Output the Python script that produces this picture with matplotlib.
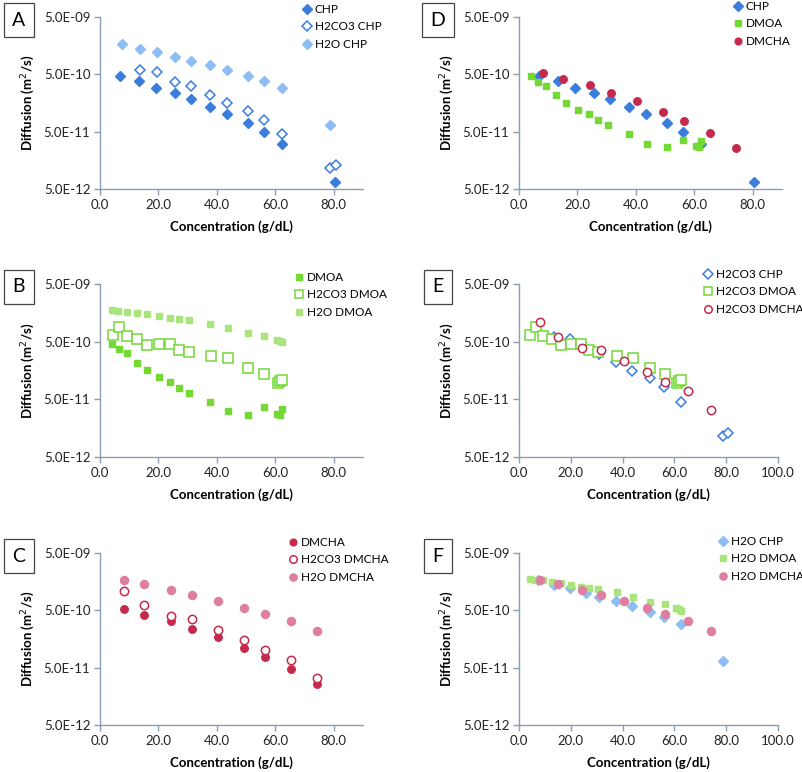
import matplotlib
matplotlib.use("Agg")
import matplotlib.pyplot as plt
from matplotlib.ticker import FixedLocator, FuncFormatter, NullLocator

plt.rcParams['font.family'] = ['Lato', 'DejaVu Sans']

# ---- data (concentration g/dL, diffusion m2/s) ----
chp_x = [7.0, 13.4, 19.3, 25.5, 31.0, 37.5, 43.5, 50.5, 56.0, 62.4, 80.4]
chp_y = [4.66e-10, 3.81e-10, 2.84e-10, 2.33e-10, 1.88e-10, 1.37e-10, 1.03e-10,
         7.1e-11, 4.96e-11, 3.03e-11, 6.6e-12]
h2co3_chp_x = [13.6, 19.6, 25.8, 31.0, 37.5, 43.5, 50.7, 56.0, 62.4, 78.7, 80.6]
h2co3_chp_y = [6.0e-10, 5.5e-10, 3.66e-10, 3.08e-10, 2.18e-10, 1.58e-10, 1.16e-10,
               8.1e-11, 4.58e-11, 1.16e-11, 1.29e-11]
h2o_chp_x = [7.4, 13.6, 19.6, 25.8, 31.0, 37.5, 43.5, 50.7, 56.0, 62.4, 78.7]
h2o_chp_y = [1.72e-9, 1.41e-9, 1.22e-9, 1.02e-9, 8.7e-10, 7.2e-10, 5.85e-10,
             4.66e-10, 3.77e-10, 2.84e-10, 6.56e-11]

dmoa_x = [4.0, 6.5, 9.2, 12.7, 16.2, 20.2, 23.8, 27.2, 30.4, 37.8, 43.9, 50.7,
          56.2, 60.5, 61.6, 62.2]
dmoa_y = [4.6e-10, 3.68e-10, 3.14e-10, 2.16e-10, 1.59e-10, 1.2e-10, 1.01e-10,
          7.96e-11, 6.5e-11, 4.56e-11, 3.1e-11, 2.67e-11, 3.63e-11, 2.82e-11,
          2.71e-11, 3.44e-11]
h2co3_dmoa_x = [4.4, 6.5, 9.2, 12.7, 16.2, 20.2, 23.8, 27.2, 30.4, 38.0, 43.9,
                50.7, 56.2, 60.9, 61.6, 62.4]
h2co3_dmoa_y = [6.44e-10, 9.1e-10, 6.18e-10, 5.56e-10, 4.38e-10, 4.56e-10,
                4.56e-10, 3.54e-10, 3.31e-10, 2.86e-10, 2.57e-10, 1.72e-10,
                1.39e-10, 9.6e-11, 1.05e-10, 1.07e-10]
h2o_dmoa_x = [4.2, 6.2, 9.2, 12.7, 16.2, 20.2, 23.8, 27.2, 30.4, 37.8, 43.9,
              50.7, 56.2, 60.5, 61.6, 62.4]
h2o_dmoa_y = [1.75e-9, 1.68e-9, 1.66e-9, 1.59e-9, 1.51e-9, 1.37e-9, 1.30e-9,
              1.22e-9, 1.17e-9, 1.03e-9, 8.5e-10, 7.06e-10, 6.35e-10, 5.42e-10,
              5.2e-10, 4.93e-10]

dmcha_x = [8.2, 15.1, 24.4, 31.5, 40.5, 49.4, 56.5, 65.3, 74.1]
dmcha_y = [5.32e-10, 4.19e-10, 3.3e-10, 2.39e-10, 1.69e-10, 1.09e-10, 7.8e-11,
           4.7e-11, 2.58e-11]
h2co3_dmcha_y = [1.09e-9, 6.08e-10, 3.92e-10, 3.57e-10, 2.27e-10, 1.5e-10,
                 1.0e-10, 6.9e-11, 3.28e-11]
h2o_dmcha_y = [1.72e-9, 1.45e-9, 1.15e-9, 9.2e-10, 7.2e-10, 5.5e-10, 4.25e-10,
               3.25e-10, 2.21e-10]

y_ticks = [5e-12, 5e-11, 5e-10, 5e-9]

# ---- styles ----
blue, lblue = '#3b7ddd', '#8dbdf2'
green, lgreen = '#72d935', '#a9e57c'
red, pink = '#c42a4c', '#de7fa2'
axis_col = '#8c9db0'

style = {
    'CHP': dict(marker='D', ms=5.6, color=blue, mfc=blue, mec=blue),
    'H2CO3 CHP': dict(marker='D', ms=5.6, color=blue, mfc='white', mec=blue, mew=1.1),
    'H2O CHP': dict(marker='D', ms=5.6, color=lblue, mfc=lblue, mec=lblue),
    'DMOA': dict(marker='s', ms=4.8, color=green, mfc=green, mec=green),
    'H2CO3 DMOA': dict(marker='s', ms=6.6, color=green, mfc='white', mec=green, mew=1.1),
    'H2O DMOA': dict(marker='s', ms=4.8, color=lgreen, mfc=lgreen, mec=lgreen),
    'DMCHA': dict(marker='o', ms=5.4, color=red, mfc=red, mec=red),
    'H2CO3 DMCHA': dict(marker='o', ms=6.0, color=red, mfc='white', mec=red, mew=1.1),
    'H2O DMCHA': dict(marker='o', ms=5.8, color=pink, mfc=pink, mec=pink),
}

series = {
    'CHP': (chp_x, chp_y),
    'H2CO3 CHP': (h2co3_chp_x, h2co3_chp_y),
    'H2O CHP': (h2o_chp_x, h2o_chp_y),
    'DMOA': (dmoa_x, dmoa_y),
    'H2CO3 DMOA': (h2co3_dmoa_x, h2co3_dmoa_y),
    'H2O DMOA': (h2o_dmoa_x, h2o_dmoa_y),
    'DMCHA': (dmcha_x, dmcha_y),
    'H2CO3 DMCHA': (dmcha_x, h2co3_dmcha_y),
    'H2O DMCHA': (dmcha_x, h2o_dmcha_y),
}

W, H = 803, 772
fig = plt.figure(figsize=(W / 100, H / 100), dpi=100)

# panel letter, series, axes box (px: left, top, right, bottom), xmax, legend anchor (px)
panels = [
    ('A', ['CHP', 'H2CO3 CHP', 'H2O CHP'], (100, 17, 363, 189), 90, (302, 4)),
    ('B', ['DMOA', 'H2CO3 DMOA', 'H2O DMOA'], (100, 284, 363, 457), 90, (294, 272)),
    ('C', ['DMCHA', 'H2CO3 DMCHA', 'H2O DMCHA'], (100, 553, 363, 725), 90, (288, 537)),
    ('D', ['CHP', 'DMOA', 'DMCHA'], (519, 17, 782, 189), 90, (733, 1)),
    ('E', ['H2CO3 CHP', 'H2CO3 DMOA', 'H2CO3 DMCHA'], (519, 284, 778, 457), 100, (703, 269)),
    ('F', ['H2O CHP', 'H2O DMOA', 'H2O DMCHA'], (519, 553, 778, 725), 100, (718, 536)),
]

for letter, names, (l, t, r, b), xmax, (lx, ly) in panels:
    ax = fig.add_axes([l / W, 1 - b / H, (r - l) / W, (b - t) / H])
    for name in names:
        x, y = series[name]
        ax.plot(x, y, linestyle='none', label=name, **style[name])
    ax.set_yscale('log')
    ax.set_ylim(5e-12, 5e-9)
    ax.set_xlim(0, xmax)
    ax.yaxis.set_major_locator(FixedLocator(y_ticks))
    ax.yaxis.set_minor_locator(NullLocator())
    ax.yaxis.set_major_formatter(FuncFormatter(lambda v, p: '%.1E' % v))
    ax.set_xticks(range(0, xmax + 1, 20))
    ax.xaxis.set_major_formatter(FuncFormatter(lambda v, p: '%.1f' % v))
    for s in ['top', 'right']:
        ax.spines[s].set_visible(False)
    for s in ['left', 'bottom']:
        ax.spines[s].set_color(axis_col)
        ax.spines[s].set_linewidth(1.0)
    ax.tick_params(direction='out', length=4, width=1.0, color=axis_col,
                   labelsize=9.5, labelcolor='#222222', pad=3)
    ax.set_xlabel('Concentration (g/dL)', fontsize=9.5, fontweight='bold', labelpad=7)
    ax.set_ylabel('Diffusion (m$^2$/s)', fontsize=9.5, fontweight='bold', labelpad=5)
    ax.set_facecolor('none')

    ax.legend(loc='upper left', bbox_to_anchor=(lx / W, 1 - ly / H),
              bbox_transform=fig.transFigure, frameon=False, fontsize=8.5,
              handlelength=0.8, handletextpad=0.3, labelspacing=0.55,
              borderpad=0, borderaxespad=0, markerscale=0.9)

    # boxed panel letter
    fig.text((l - 81) / W, 1 - (t + 3) / H, letter, fontsize=14, ha='center', va='center',
             bbox=dict(boxstyle='square,pad=0.45', fc='white', ec='#444444', lw=0.9))

fig.savefig('out.png', dpi=100)
